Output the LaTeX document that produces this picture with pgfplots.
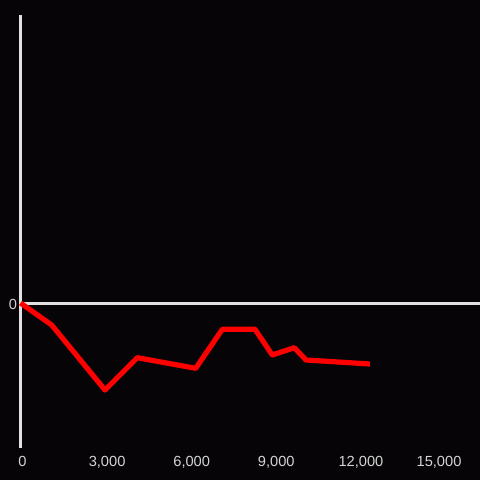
\documentclass[border=0pt]{standalone}
\usepackage{fontspec}
\setmainfont{Liberation Sans}
\usepackage{pgfplots}
\pgfplotsset{compat=1.18}
\definecolor{bg}{HTML}{060407}
\definecolor{axl}{HTML}{E2E2E2}
\definecolor{tkl}{HTML}{D4D4D4}
\definecolor{ln}{HTML}{FF0000}
\begin{document}
\begin{tikzpicture}
\fill[bg] (0,0) rectangle (480bp,480bp);
\path[use as bounding box] (0,0) rectangle (480bp,480bp);
\begin{axis}[
  at={(20.5bp,32bp)}, anchor=south west,
  scale only axis, width=459.5bp, height=433bp,
  xmin=0, xmax=16294, ymin=-145, ymax=288,
  axis line style={draw=none},
  tick style={draw=none},
  scaled x ticks=false,
  xtick={0,3000,6000,9000,12000},
  xticklabels={0,{3,000},{6,000},{9,000},{12,000}},
  extra x ticks={15000},
  extra x tick labels={15{,}000},
  extra x tick style={x tick label style={xshift=-6.5bp}},
  ytick={0}, yticklabels={0},
  x tick label style={font=\fontsize{14.7}{17}\selectfont, text=tkl, anchor=north, yshift=-5bp, xshift=2bp},
  y tick label style={font=\fontsize{14.7}{17}\selectfont, text=tkl, anchor=east, xshift=0bp, yshift=-1.5bp},
  clip=false,
]
\draw[axl, line width=3bp] (axis cs:0,-145) -- (axis cs:0,288);
\draw[axl, line width=3bp] (axis cs:0,-1) -- (axis cs:16294,-1);
\addplot[ln, line width=5.2bp, line join=round, mark=none] coordinates {
(0,0) (1106,-22) (2996,-87) (4142,-54.7) (6213,-65.3) (7156,-26.3) (8316,-26.3) (8929,-52) (9709,-44.7) (10124,-57) (12390,-61)
};
\end{axis}
\end{tikzpicture}
\end{document}
